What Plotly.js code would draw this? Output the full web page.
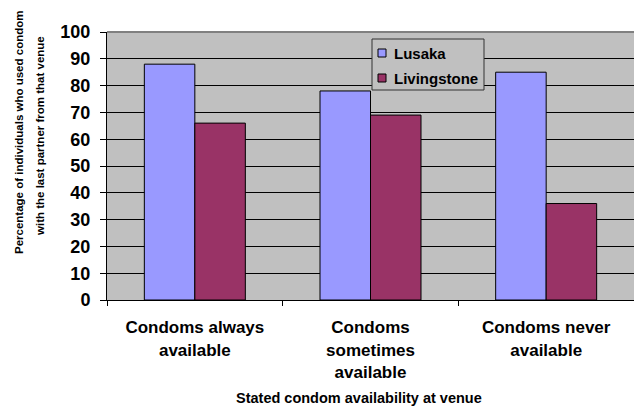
<!DOCTYPE html>
<html>
<head>
<meta charset="utf-8">
<script src="https://cdn.plot.ly/plotly-3.0.1.min.js"></script>
<style>html,body{margin:0;padding:0;background:#fff;}#chart{width:634px;height:414px;}</style>
</head>
<body>
<div id="chart"></div>
<script>
const categories = ["Condoms always<br>available", "Condoms<br>sometimes<br>available", "Condoms never<br>available"];
const lusaka = [88, 78, 85];
const livingstone = [66, 69, 36];
const seriesNames = ["Lusaka", "Livingstone"];
const seriesColors = ["#9999ff", "#993366"];
const yTitleLines = ["Percentage of individuals who used condom", "with the last partner from that venue"];
const xTitle = "Stated condom availability at venue";

const font = "Liberation Sans, Arial, sans-serif";
const W = 634, H = 414, M = {l: 107, r: 0, t: 32, b: 114};
const PW = W - M.l - M.r, PH = H - M.t - M.b;
const px = x => (x - M.l) / PW;          // pixel -> paper x
const py = y => (H - M.b - y) / PH;      // pixel -> paper y

const traces = seriesNames.map((n, i) => ({
  type: "bar", name: n, x: categories, y: i === 0 ? lusaka : livingstone, showlegend: false,
  marker: {color: seriesColors[i], line: {color: "#000", width: 1}}
}));

// legend drawn by hand (box, swatches, names)
const legendShapes = [
  {type: "rect", xref: "paper", yref: "paper", x0: px(372), x1: px(484), y0: py(39), y1: py(90),
   fillcolor: "#c0c0c0", line: {color: "#333", width: 1}, layer: "above"}
];
const legendAnn = [];
seriesNames.forEach((n, i) => {
  const cy = 53 + i * 25;
  legendShapes.push({type: "rect", xref: "paper", yref: "paper", x0: px(378), x1: px(386),
    y0: py(cy - 4), y1: py(cy + 4), fillcolor: seriesColors[i], line: {color: "#000", width: 1}, layer: "above"});
  legendAnn.push({text: n, xref: "paper", yref: "paper", x: px(392), y: py(cy + 0.5), xanchor: "left",
    yanchor: "middle", showarrow: false, font: {size: 15, family: font, weight: "bold"}});
});

const layout = {
  width: W, height: H, margin: M,
  paper_bgcolor: "#fff", plot_bgcolor: "#c0c0c0",
  barmode: "group", bargap: 0.425, bargroupgap: 0,
  font: {family: font, color: "#000"},
  showlegend: false,
  xaxis: {type: "category", showgrid: false, showline: true, linecolor: "#000", linewidth: 1,
    ticks: "outside", tickson: "boundaries", ticklen: 5, tickcolor: "#000", ticklabelstandoff: 12,
    tickfont: {size: 17, family: font, weight: "bold"}, zeroline: false},
  yaxis: {range: [0, 100], dtick: 10, showgrid: true, gridcolor: "#000", gridwidth: 1,
    showline: true, linecolor: "#000", linewidth: 1, ticks: "outside", ticklen: 6, tickcolor: "#000",
    ticklabelstandoff: 6,
    tickfont: {size: 18, family: font, weight: "bold"}, zeroline: false, fixedrange: true},
  shapes: [{type: "line", xref: "paper", yref: "paper", x0: 0, x1: 1, y0: 1, y1: 1,
    line: {color: "#808080", width: 2}}].concat(legendShapes),
  annotations: [
    {text: yTitleLines[0], xref: "paper", yref: "paper", x: px(19), y: py(133), xanchor: "center", yanchor: "middle",
     textangle: -90, showarrow: false, font: {size: 11.5, family: font, weight: "bold"}},
    {text: yTitleLines[1], xref: "paper", yref: "paper", x: px(40), y: py(136), xanchor: "center", yanchor: "middle",
     textangle: -90, showarrow: false, font: {size: 11.5, family: font, weight: "bold"}},
    {text: xTitle, xref: "paper", yref: "paper", x: 0.478, y: -0.366, xanchor: "center", yanchor: "middle",
     showarrow: false, font: {size: 14.5, family: font, weight: "bold"}}
  ].concat(legendAnn)
};
Plotly.newPlot("chart", traces, layout, {staticPlot: true});
</script>
</body>
</html>
